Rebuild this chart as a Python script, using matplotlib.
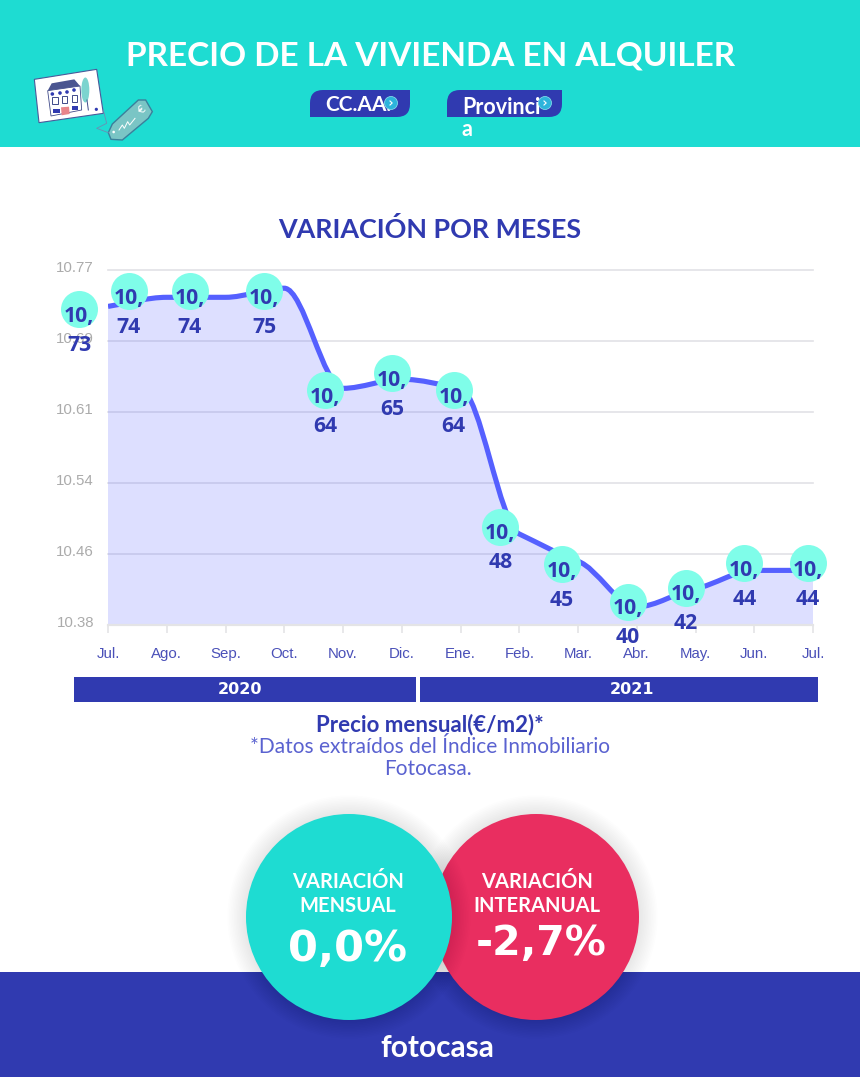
import numpy as np
import matplotlib
matplotlib.use('Agg')
import matplotlib.pyplot as plt
import matplotlib.transforms as mtransforms
from matplotlib.patches import Rectangle, Circle, Polygon, PathPatch, Ellipse
from matplotlib.path import Path

# data
months = ['Jul.', 'Ago.', 'Sep.', 'Oct.', 'Nov.', 'Dic.', 'Ene.', 'Feb.', 'Mar.', 'Abr.', 'May.', 'Jun.', 'Jul.']
prices = [10.73, 10.74, 10.74, 10.75, 10.64, 10.65, 10.64, 10.48, 10.45, 10.40, 10.42, 10.44, 10.44]
y_min = 10.38
y_max = 10.77
years = ['2020', '2021']

# where the bubbles got pushed to, relative to the point (pixels)
bubble_dx = [-29, -38, -36, -20, -18, -10, -7, -19, -16, -9, -10, -10, -5]
bubble_dy = [3, -6, -6, 3, 2, -6, 2, -7, 3, -5, -1, -7, -7]

NAVY = '#303ab0'
TEAL = '#1edcd2'
RED = '#e92e60'
MINT = '#7ffde9'
LINE = '#5560ff'
TITLE_FONT = ['Lato', 'DejaVu Sans']
WIDE_FONT = ['DejaVu Sans']

W, H = 860, 1077
fig = plt.figure(figsize=(W / 100, H / 100), dpi=100, facecolor='white')

# pixel canvas for everything around the chart
bg = fig.add_axes([0, 0, 1, 1], zorder=0)
bg.set_xlim(0, W)
bg.set_ylim(H, 0)
bg.axis('off')


def soft_shadow(x, y, r):
    for k in range(12):
        bg.add_patch(Circle((x, y), r + 1 + k * 1.6, fc='black', ec='none', alpha=0.008))


def button(x0, x1, y0, y1, r=13):
    # rounded top-left and bottom-right corners only
    verts = [(x0, y1), (x0, y0 + r), (x0, y0), (x0 + r, y0), (x1, y0), (x1, y1 - r), (x1, y1),
             (x1 - r, y1), (x0, y1), (x0, y1)]
    codes = [Path.MOVETO, Path.LINETO, Path.CURVE3, Path.CURVE3, Path.LINETO, Path.LINETO, Path.CURVE3,
             Path.CURVE3, Path.LINETO, Path.CLOSEPOLY]
    bg.add_patch(PathPatch(Path(verts, codes), fc=NAVY, ec='none'))


def chevron_icon(x, y):
    bg.add_patch(Circle((x, y), 6.5, fc='#2cb4dc', ec='#7fd8e8', lw=0.6, zorder=5))
    bg.plot([x - 1, x + 1.2, x - 1], [y - 2, y, y + 2], color='white', lw=0.8, zorder=6)


def z(pts):
    # coords taken from a 3x crop of the illustration
    return [(25 + a / 3, 60 + b / 3) for a, b in pts]


# header
bg.add_patch(Rectangle((0, 0), W, 147, fc=TEAL, ec='none'))
bg.text(430.5, 56, 'PRECIO DE LA VIVIENDA EN ALQUILER', color='white', fontsize=24, fontweight='bold',
        family=TITLE_FONT, ha='center', va='center')

button(310, 410, 90, 117)
button(447, 562, 90, 117)
bg.text(325, 105, 'CC.AA.', color='white', fontsize=15, fontweight='bold', family=TITLE_FONT, ha='left', va='center')
bg.text(462, 107, 'Provinci', color='white', fontsize=15.5, fontweight='bold', family=TITLE_FONT, ha='left', va='center')
bg.text(462, 129, 'a', color='white', fontsize=15.5, fontweight='bold', family=TITLE_FONT, ha='left', va='center')
chevron_icon(391, 103)
chevron_icon(545, 103)

# little house card and price tag
bg.add_patch(Polygon(z([(28, 58), (215, 28), (235, 160), (42, 188)]), fc='white', ec='#4a5a9a', lw=0.8))
bg.add_patch(Polygon(z([(68, 92), (165, 78), (170, 150), (78, 168)]), fc='white', ec='#3f4a8a', lw=0.6))
bg.add_patch(Polygon(z([(68, 92), (80, 70), (148, 58), (165, 78)]), fc='#4a5590', ec='none'))
bg.add_patch(Polygon(z([(108, 142), (132, 140), (134, 162), (110, 166)]), fc='#e8858a', ec='none'))
for wx, wy in [(82, 102), (105, 99), (126, 96), (147, 90)]:
    bg.add_patch(Circle(z([(wx, wy)])[0], 1.8, fc=NAVY, ec='none'))
for wx, wy in [(90, 122), (118, 118), (148, 114)]:
    bg.add_patch(Rectangle(z([(wx - 8, wy - 10)])[0], 5.5, 7, fc='white', ec='#3f4a8a', lw=0.7))
for wx, wy in [(84, 148), (140, 138)]:
    bg.add_patch(Rectangle(z([(wx, wy)])[0], 6.5, 4, fc=NAVY, ec='none'))
bg.add_patch(Ellipse(z([(181, 90)])[0], 8, 25, fc='#7cd4cf', ec='none'))
bg.plot(*zip(*z([(186, 120), (190, 150)])), color='#3f4a8a', lw=0.7)
bg.add_patch(Circle(z([(214, 148)])[0], 1.6, fc=NAVY, ec='none'))
bg.plot(*zip(*z([(235, 150), (245, 190), (215, 205), (250, 218)])), color='#6a8fb5', lw=0.6)
bg.add_patch(Polygon(z([(250, 218), (262, 192), (340, 120), (362, 120), (382, 155), (370, 175), (292, 240), (258, 238)]),
                     fc='#7ac5c5', ec='#3b7f9b', lw=1))
bg.add_patch(Circle(z([(266, 216)])[0], 1.3, fc='white', ec='none'))
bg.plot(*zip(*z([(282, 210), (292, 195), (298, 205), (308, 185), (314, 195), (330, 175)])), color='white', lw=0.7)
bg.text(*z([(350, 150)])[0], '€', color='white', fontsize=8, rotation=40, ha='center', va='center')

# chart title
bg.text(429.5, 229, 'VARIACIÓN POR MESES', color=NAVY, fontsize=19.4, fontweight='bold', family=TITLE_FONT,
        ha='center', va='center')

# year bars
bg.add_patch(Rectangle((74, 677), 342, 25, fc=NAVY, ec='none'))
bg.add_patch(Rectangle((420, 677), 398, 25, fc=NAVY, ec='none'))
bg.text(240, 690, years[0], color='white', fontsize=11.5, fontweight='bold', family=WIDE_FONT, ha='center', va='center')
bg.text(632, 689, years[1], color='white', fontsize=11.5, fontweight='bold', family=WIDE_FONT, ha='center', va='center')

# caption
bg.text(430, 725, 'Precio mensual(€/m2)*', color=NAVY, fontsize=16, fontweight='bold', family=TITLE_FONT,
        ha='center', va='center')
bg.text(430, 747, '*Datos extraídos del Índice Inmobiliario', color='#5a62d0', fontsize=15, fontweight='normal',
        family=TITLE_FONT, ha='center', va='center')
bg.text(428, 769, 'Fotocasa.', color='#5a62d0', fontsize=15, fontweight='normal', family=TITLE_FONT,
        ha='center', va='center')

# footer and the two big circles
bg.add_patch(Rectangle((0, 972), W, 105, fc=NAVY, ec='none'))
soft_shadow(536, 917, 103)
bg.add_patch(Circle((536, 917), 103, fc=RED, ec='none'))
soft_shadow(349, 917, 103)
bg.add_patch(Circle((349, 917), 103, fc=TEAL, ec='none'))

for x, y, s in [(348, 882, 'VARIACIÓN'), (348, 906, 'MENSUAL'), (537, 882, 'VARIACIÓN'), (537, 906, 'INTERANUAL')]:
    bg.text(x, y, s, color='white', fontsize=14.5, fontweight='bold', family=TITLE_FONT, ha='center', va='center')
bg.text(348, 949, '0,0%', color='white', fontsize=31, fontweight='bold', family=WIDE_FONT, ha='center', va='center')
bg.text(541, 944, '-2,7%', color='white', fontsize=29.5, fontweight='bold', family=WIDE_FONT, ha='center', va='center')
bg.text(437.5, 1048, 'fotocasa', color='white', fontsize=21.5, fontweight='bold', family=['Lato'], ha='center', va='center')

# the chart itself
ax = fig.add_axes([108 / W, 1 - 625 / H, (813 - 108) / W, (625 - 270) / H], zorder=1)
ax.patch.set_alpha(0)
x = np.arange(len(prices))
y = np.array(prices)
ax.set_xlim(0, len(prices) - 1)
ax.set_ylim(y_min, y_max)

y_ticks = np.linspace(y_min, y_max, 6)
ax.set_yticks(y_ticks)
ax.set_yticklabels([f'{v:.2f}' for v in y_ticks])
ax.set_xticks(x)
ax.set_xticklabels(months)
ax.grid(axis='y', color='#e2e2e6', lw=1.2, zorder=0, clip_on=False)
ax.set_axisbelow(True)
for side in ['top', 'left', 'right']:
    ax.spines[side].set_visible(False)
ax.spines['bottom'].set_color('#e4e4e6')
ax.spines['bottom'].set_linewidth(1.6)
ax.tick_params(axis='x', length=6, width=1.2, color='#e4e4e6', labelcolor='#4a50b8', labelsize=10.8, pad=10)
ax.tick_params(axis='y', length=0, labelcolor='#ababab', labelsize=10.8, pad=10)
for lab in ax.get_xticklabels() + ax.get_yticklabels():
    lab.set_family('Liberation Sans')
shift_up = mtransforms.ScaledTranslation(0, 3.5 / 100, fig.dpi_scale_trans)
for lab in ax.get_yticklabels():
    lab.set_transform(lab.get_transform() + shift_up)


def monotone_path(xs, ys, flat=0.6):
    # monotone cubic through the points, as bezier segments
    h = np.diff(xs)
    d = np.diff(ys) / h
    m = np.zeros(len(xs))
    for i in range(1, len(xs) - 1):
        if d[i - 1] * d[i] > 0:
            m[i] = flat * 2 * d[i - 1] * d[i] / (d[i - 1] + d[i])
    m[0] = d[0]
    m[-1] = d[-1]
    verts = [(xs[0], ys[0])]
    codes = [Path.MOVETO]
    for i in range(len(xs) - 1):
        verts += [(xs[i] + h[i] / 3, ys[i] + m[i] * h[i] / 3),
                  (xs[i + 1] - h[i] / 3, ys[i + 1] - m[i + 1] * h[i] / 3),
                  (xs[i + 1], ys[i + 1])]
        codes += [Path.CURVE4] * 3
    return verts, codes


verts, codes = monotone_path(x, y)
fill_path = Path(verts + [(x[-1], y_min), (x[0], y_min), (x[0], y[0])], codes + [Path.LINETO, Path.LINETO, Path.CLOSEPOLY])
ax.add_patch(PathPatch(fill_path, fc=LINE, ec='none', alpha=0.2, zorder=2))
ax.add_patch(PathPatch(Path(verts, codes), fc='none', ec=LINE, lw=3.7, capstyle='butt', zorder=3))

# value bubbles
for i, v in enumerate(prices):
    off = mtransforms.offset_copy(ax.transData, fig=fig, x=bubble_dx[i], y=-bubble_dy[i], units='dots')
    ax.plot([i], [v], 'o', ms=37 * 0.72, color=MINT, mew=0, clip_on=False, transform=off, zorder=4)
    head, tail = f'{v:.2f}'.split('.')
    ax.annotate(head + ',', (i, v), xytext=(bubble_dx[i], -bubble_dy[i] - 7), textcoords='offset pixels',
                ha='center', va='center', color=NAVY, fontsize=15.2, fontweight='bold', family='Open Sans',
                annotation_clip=False, zorder=5)
    ax.annotate(tail, (i, v), xytext=(bubble_dx[i], -bubble_dy[i] - 36), textcoords='offset pixels',
                ha='center', va='center', color=NAVY, fontsize=15.2, fontweight='bold', family='Open Sans',
                annotation_clip=False, zorder=5)

fig.savefig('out.png', dpi=100)
